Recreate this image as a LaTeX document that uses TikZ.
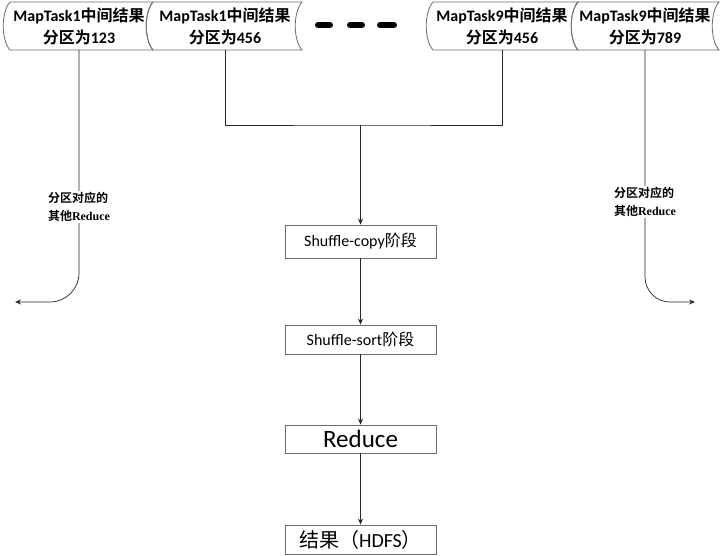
\documentclass[tikz,border=0pt]{standalone}
\usepackage{fontspec}
\setmainfont{Carlito}
\newfontfamily\cjk{Noto Sans CJK SC}[BoldFont={Noto Sans CJK SC Bold}]
\newfontfamily\lserif{Liberation Serif}
\usetikzlibrary{arrows.meta}
\newcommand\tapeshape[2]{\draw[tape] (#1,2) -- (#2,2) .. controls (#2-9,12) and (#2-9,40) .. (#2,50) -- (#1,50) .. controls (#1-9,40) and (#1-9,12) .. (#1,2) -- cycle;}
\begin{document}
\begin{tikzpicture}[x=1pt,y=-1pt,
  tape/.style={draw=gray!85!black, line width=0.8pt},
  toptext/.style={font=\fontsize{16}{22}\selectfont\bfseries, align=center, minimum height=48pt, inner sep=0pt},
  stagebox/.style={draw=gray!85!black, line width=0.8pt, minimum width=151pt, inner sep=0pt},
  conn/.style={draw=black!85, line width=0.7pt},
  arr/.style={conn, -{Stealth[length=6pt,width=5pt]}},
  sidelabel/.style={fill=white, align=left, font=\fontsize{12}{18}\selectfont\bfseries, inner sep=1pt},
  dashbar/.style={line width=6pt, line cap=round, black}]
\fill[white] (0,0) rectangle (720,555);
\useasboundingbox (0,0) rectangle (720,555);

% top storage shapes
\tapeshape{10}{153}
\tapeshape{153}{302}
\tapeshape{433}{578}
\tapeshape{578}{719}

\node[toptext] (m1) at (79,26) {MapTask1{\cjk 中间结果}\\{\cjk 分区为}123};
\node[toptext] (m2) at (225,26) {MapTask1{\cjk 中间结果}\\{\cjk 分区为}456};
\node[toptext] (m3) at (502,26) {MapTask9{\cjk 中间结果}\\{\cjk 分区为}456};
\node[toptext] (m4) at (645,26) {MapTask9{\cjk 中间结果}\\{\cjk 分区为}789};

% ellipsis dashes
\draw[dashbar] (318,25) -- (330,25);
\draw[dashbar] (350,25) -- (362,25);
\draw[dashbar] (380,25) -- (394,25);

% stage boxes
\node[stagebox, minimum height=33pt, font=\fontsize{16}{18}\selectfont] (copy) at (360.5,241.5) {Shuffle-copy{\cjk 阶段}};
\node[stagebox, minimum height=29pt, font=\fontsize{16}{18}\selectfont] (sort) at (360.5,339.5) {Shuffle-sort{\cjk 阶段}};
\node[stagebox, minimum height=28pt, font=\fontsize{25}{28}\selectfont] (reduce) at (360.5,439) {Reduce};
\node[stagebox, minimum height=29pt, font=\fontsize{20}{24}\selectfont] (result) at (360.5,539.5) {{\cjk 结果（}HDFS{\cjk ）}};

% connectors
\coordinate (j) at (360.5,125);
\coordinate (lend) at (15,302);
\coordinate (rend) at (695,302);
\draw[conn] (m2.south) |- (j) -| (m3.south);
\draw[arr] (j) -- (copy.north);
\draw[arr] (copy) -- (sort);
\draw[arr] (sort) -- (reduce);
\draw[arr] (reduce) -- (result);
\draw[arr, rounded corners=29pt] (m1.south) |- (lend);
\draw[arr, rounded corners=25pt] (m4.south) |- (rend);

% side labels
\node[sidelabel] (ll) at (79,207) {{\cjk 分区对应的}\\{\cjk 其他}{\lserif Reduce}};
\node[sidelabel] (rl) at (645,202) {{\cjk 分区对应的}\\{\cjk 其他}{\lserif Reduce}};
\end{tikzpicture}
\end{document}
